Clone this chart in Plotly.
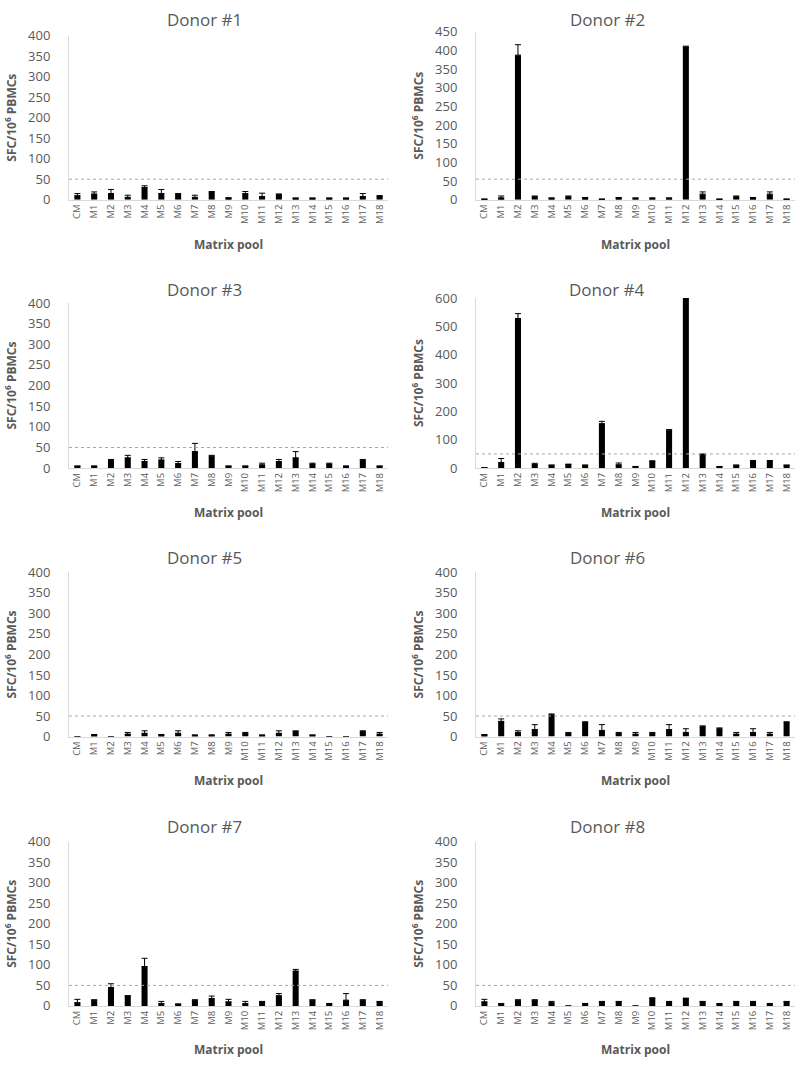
import plotly.graph_objects as go

W, H = 800, 1069

categories = ["CM"] + [f"M{i}" for i in range(1, 19)]

donor1 = [10, 14, 15, 6, 30, 15, 13, 6, 18, 4, 15, 8, 13, 4, 4, 4, 4, 8, 9]
donor1_err = [5, 5, 10, 5, 4, 10, 2, 5, 2, 1, 5, 8, 1, 0, 0, 0, 0, 7, 1]

donor2 = [1, 5, 387, 8, 4, 8, 5, 1, 5, 4, 4, 4, 409, 15, 1, 8, 5, 15, 1]
donor2_err = [0, 5, 28, 2, 1, 2, 1, 0, 1, 1, 1, 1, 2, 6, 0, 2, 1, 6, 0]

donor3 = [5, 5, 19, 25, 16, 20, 11, 40, 29, 5, 5, 8, 16, 25, 10, 10, 5, 19, 5]
donor3_err = [0, 0, 2, 6, 5, 5, 5, 20, 2, 0, 0, 4, 5, 15, 2, 2, 0, 2, 0]

donor4 = [1, 20, 528, 13, 10, 13, 10, 157, 12, 5, 24, 134, 640, 48, 5, 10, 25, 25, 10]
donor4_err = [0, 14, 17, 4, 1, 1, 1, 8, 6, 1, 2, 2, 0, 2, 1, 1, 2, 2, 1]

donor5 = [0, 4, 0, 6, 8, 4, 8, 3, 3, 6, 8, 3, 8, 12, 3, 0, 0, 12, 6]
donor5_err = [0, 1, 0, 4, 6, 1, 6, 1, 1, 4, 2, 1, 6, 2, 1, 0, 0, 2, 4]

donor6 = [4, 37, 10, 17, 53, 8, 34, 15, 8, 6, 8, 17, 10, 24, 19, 6, 10, 6, 34]
donor6_err = [1, 6, 4, 12, 2, 2, 2, 14, 2, 4, 2, 12, 9, 2, 2, 4, 9, 4, 2]

donor7 = [8, 14, 45, 24, 96, 6, 4, 14, 18, 10, 6, 10, 25, 85, 14, 5, 14, 14, 10]
donor7_err = [8, 1, 9, 1, 20, 5, 1, 1, 6, 6, 5, 1, 5, 4, 1, 1, 16, 1, 1]

donor8 = [10, 5, 14, 14, 8, 0, 5, 10, 10, 0, 18, 10, 18, 10, 5, 10, 10, 5, 10]
donor8_err = [6, 1, 1, 1, 3, 0, 1, 1, 1, 0, 2, 1, 1, 1, 1, 1, 1, 1, 1]

titles = ["Donor #1", "Donor #2", "Donor #3", "Donor #4",
          "Donor #5", "Donor #6", "Donor #7", "Donor #8"]
values = [donor1, donor2, donor3, donor4, donor5, donor6, donor7, donor8]
errors = [donor1_err, donor2_err, donor3_err, donor4_err,
          donor5_err, donor6_err, donor7_err, donor8_err]
y_max = [400, 450, 400, 600, 400, 400, 400, 400]
y_step = [50, 50, 50, 100, 50, 50, 50, 50]
thresholds = [50, 55, 50, 50, 50, 50, 50, 50]

# layout geometry (pixels)
x_px = [(69, 388), (476, 795)]
y_px = [(27, 194), (23, 194), (299, 467), (294, 467),
        (573, 740), (573, 740), (847, 1014), (847, 1014)]
title_y = [11, 11, 285, 285, 558, 558, 831, 831]
title_x = [205, 607]
xtitle_y = [240, 240, 512, 512, 785, 785, 1058, 1058]
ytitle_x = [11, 418]

GREY = "#595959"
FONT = "Open Sans"

fig = go.Figure()
annotations = []
shapes = []

for i in range(8):
    col = i % 2
    ax = "" if i == 0 else str(i + 1)
    fig.add_trace(go.Bar(
        x=categories, y=values[i],
        marker=dict(color="black", line=dict(width=0)),
        width=0.36,
        error_y=dict(type="data", symmetric=False, array=errors[i],
                     arrayminus=[0] * len(errors[i]),
                     color="black", thickness=1, width=3),
        xaxis="x" + ax, yaxis="y" + ax, showlegend=False,
    ))
    x0, x1 = x_px[col]
    yt, yb = y_px[i]
    xd = [x0 / W, x1 / W]
    yd = [1 - yb / H, 1 - yt / H]
    fig.layout["xaxis" + ax] = dict(
        domain=xd, anchor="y" + ax, type="category",
        categoryorder="array", categoryarray=categories,
        range=[-0.5, 18.5], showline=True, linecolor="#d9d9d9", linewidth=1,
        ticks="", tickangle=-90, tickfont=dict(size=9.5, color=GREY, family=FONT),
        showgrid=False, zeroline=False, fixedrange=True,
        ticklabeloverflow="allow",
    )
    fig.layout["yaxis" + ax] = dict(
        domain=yd, anchor="x" + ax, range=[0, y_max[i]], dtick=y_step[i],
        tick0=0, showline=True, linecolor="#d9d9d9", linewidth=1,
        ticks="", tickfont=dict(size=13, color=GREY, family=FONT),
        showgrid=False, zeroline=False, ticklabelstandoff=15,
    )
    shapes.append(dict(type="line", xref="x" + ax + " domain", yref="y" + ax,
                       x0=0, x1=1, y0=thresholds[i], y1=thresholds[i],
                       line=dict(color="#a6a6a6", width=1, dash="dot")))
    annotations.append(dict(text=titles[i], x=title_x[col] / W, y=1 - title_y[i] / H,
                            xref="paper", yref="paper", showarrow=False,
                            xanchor="center", yanchor="middle",
                            font=dict(size=17, color=GREY, family=FONT)))
    annotations.append(dict(text="<b>SFC/10<sup>6</sup> PBMCs</b>",
                            x=ytitle_x[col] / W, y=1 - (yt + yb) / 2 / H,
                            xref="paper", yref="paper", showarrow=False,
                            textangle=-90, xanchor="center", yanchor="middle",
                            font=dict(size=12, color=GREY, family=FONT)))
    annotations.append(dict(text="<b>Matrix pool</b>",
                            x=(x0 + x1) / 2 / W, y=1 - xtitle_y[i] / H,
                            xref="paper", yref="paper", showarrow=False,
                            xanchor="center", yanchor="middle",
                            font=dict(size=12, color=GREY, family=FONT)))

fig.update_layout(
    width=W, height=H, margin=dict(l=0, r=0, t=0, b=0),
    paper_bgcolor="white", plot_bgcolor="white",
    annotations=annotations, shapes=shapes,
    bargap=0.64, font=dict(family=FONT, color=GREY),
)

post = (
    "document.documentElement.style.margin='0';"
    "document.documentElement.style.padding='0';"
    "document.documentElement.style.overflow='hidden';"
    "document.body.style.margin='0';"
    "document.body.style.padding='0';"
    "document.body.style.overflow='hidden';"
    "document.body.style.fontSize='0';"
    "document.body.style.lineHeight='0';"
    "var gd=document.getElementById('{plot_id}');"
    "gd.style.position='absolute';gd.style.top='0';gd.style.left='0';"
)

fig.write_html("out.html", config={"displayModeBar": False}, post_script=post)
